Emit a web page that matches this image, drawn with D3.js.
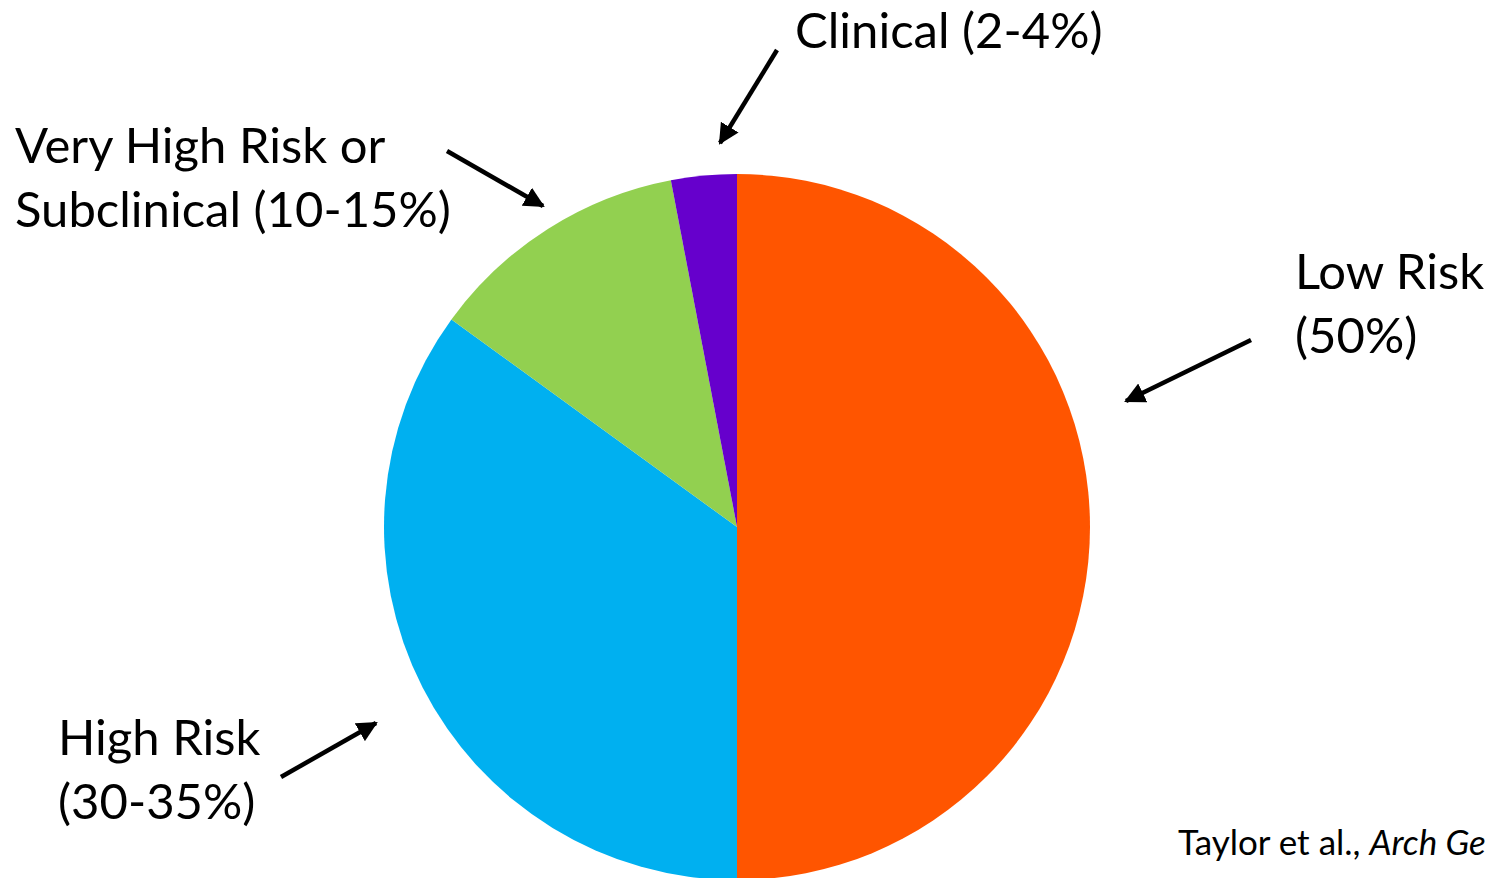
<!DOCTYPE html>
<html>
<head>
<meta charset="utf-8">
<script src="https://d3js.org/d3.v7.min.js"></script>
<style>
  html, body { margin: 0; padding: 0; background: #fff; overflow: hidden; }
  .label { font-family: Lato, "Open Sans", sans-serif; font-size: 49px; fill: #000; }
  .cite { font-family: Lato, "Open Sans", sans-serif; font-size: 35px; fill: #000; }
</style>
</head>
<body>
<svg width="1485" height="878"></svg>
<script>

// slices, clockwise from 12 o'clock
var categories = ["Low Risk", "High Risk", "Very High Risk or Subclinical", "Clinical"];
var shares = [50, 35, 12, 3];
var colors = ["#FF5500", "#00B0F0", "#92D050", "#6600CC"];

// label lines for each slice
var labelLines = [
  ["Low Risk", "(50%)"],
  ["High Risk", "(30-35%)"],
  ["Very High Risk or", "Subclinical (10-15%)"],
  ["Clinical (2-4%)"]
];

var svg = d3.select("svg"),
    cx = 737,
    cy = 527,
    radius = 353;

svg.append("defs").append("marker")
    .attr("id", "head")
    .attr("viewBox", "0 0 10 10")
    .attr("refX", 9)
    .attr("refY", 5)
    .attr("markerWidth", 4.6)
    .attr("markerHeight", 4.6)
    .attr("markerUnits", "strokeWidth")
    .attr("orient", "auto")
  .append("path")
    .attr("d", "M0,0 L10,5 L0,10 z")
    .attr("fill", "#000");

var pie = d3.pie().sort(null).value(function(d) { return d; });
var arc = d3.arc().innerRadius(0).outerRadius(radius);

var g = svg.append("g").attr("transform", "translate(" + cx + "," + cy + ")");

g.selectAll("path")
    .data(pie(shares))
  .enter().append("path")
    .attr("d", arc)
    .attr("fill", function(d, i) { return colors[i]; });

// where each label and its arrow sit
var labelPos = [
  {x: 1295, y: 289, tail: [1251, 340], tip: [1126, 401]},
  {x: 58, y: 755, tail: [281, 777], tip: [376, 723]},
  {x: 15, y: 163, tail: [447, 151], tip: [543, 206]},
  {x: 795, y: 48, tail: [777, 50], tip: [720, 143]}
];

categories.forEach(function(name, i) {
  var p = labelPos[i];
  var t = svg.append("text")
      .attr("class", "label")
      .attr("x", p.x)
      .attr("y", p.y);
  labelLines[i].forEach(function(line, j) {
    t.append("tspan")
        .attr("x", p.x)
        .attr("dy", j ? 64 : 0)
        .text(line);
  });

  svg.append("line")
      .attr("x1", p.tail[0])
      .attr("y1", p.tail[1])
      .attr("x2", p.tip[0])
      .attr("y2", p.tip[1])
      .attr("stroke", "#000")
      .attr("stroke-width", 4.5)
      .attr("marker-end", "url(#head)");
});

var cite = svg.append("text")
    .attr("class", "cite")
    .attr("x", 1178)
    .attr("y", 855);
cite.append("tspan").text("Taylor et al., ");
cite.append("tspan").style("font-style", "italic").text("Arch Gen Psychiatry");

</script>
</body>
</html>
